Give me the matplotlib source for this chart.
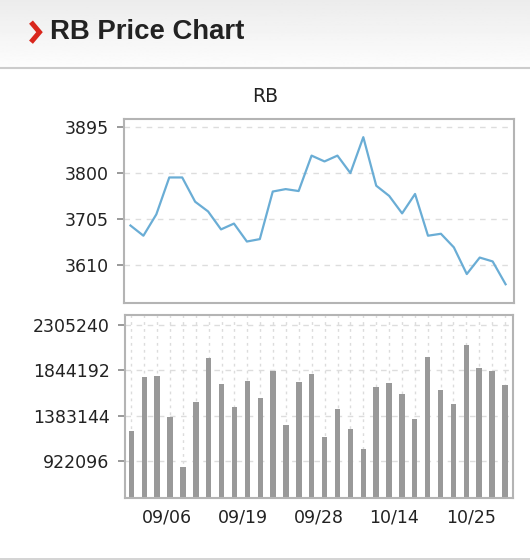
import numpy as np
import matplotlib
matplotlib.use('Agg')
import matplotlib.pyplot as plt

# price series (30 sessions) and volume bars
price = [3692, 3671, 3715, 3791, 3791, 3741, 3721, 3684, 3696, 3659,
         3664, 3762, 3767, 3763, 3836, 3824, 3836, 3800, 3874, 3774,
         3753, 3717, 3757, 3671, 3675, 3647, 3592, 3626, 3618, 3571]
volume = [1227000, 1780000, 1787000, 1373000, 861000, 1519000, 1974000, 1709000, 1468000, 1736000,
          1567000, 1838000, 1288000, 1729000, 1811000, 1166000, 1455000, 1251000, 1048000, 1679000,
          1719000, 1607000, 1346000, 1984000, 1645000, 1506000, 2103000, 1865000, 1841000, 1692000]
price_ticks = [3610, 3705, 3800, 3895]
vol_ticks = [922096, 1383144, 1844192, 2305240]
date_labels = ['09/06', '09/19', '09/28', '10/14', '10/25']
date_pos = [2.77, 8.64, 14.59, 20.4, 26.34]

W, H = 530, 560
fig = plt.figure(figsize=(W / 100, H / 100), dpi=100)
fig.patch.set_facecolor('white')

# header strip with a soft gradient
hdr = fig.add_axes([0, 1 - 67 / H, 1, 67 / H])
grad = np.linspace(0.925, 0.99, 64).reshape(-1, 1)
hdr.imshow(grad, cmap='gray', vmin=0, vmax=1, aspect='auto', extent=[0, 1, 0, 1])
hdr.set_xlim(0, 1)
hdr.set_ylim(0, 1)
hdr.axis('off')
hdr.plot([31 / W, 39.5 / W, 31 / W], [0.67, 0.52, 0.37], color='#d9261c', lw=3.6,
         solid_joinstyle='miter', solid_capstyle='butt', transform=hdr.transAxes)
hdr.text(50 / W, 0.52, 'RB Price Chart', family='Liberation Sans', weight='bold',
         fontsize=19.8, color='#222222', va='center', ha='left', transform=hdr.transAxes)
fig.add_artist(plt.Line2D([0, 1], [1 - 68 / H, 1 - 68 / H], color='#cccccc', lw=1.5))
fig.add_artist(plt.Line2D([0, 1], [1 - 558.5 / H, 1 - 558.5 / H], color='#cccccc', lw=1.2))

frame_col = '#b4b4b4'
tick_font = dict(family='DejaVu Sans', size=12.5)
x = np.arange(len(price))
xlim = (-0.5, 29.65)

ax1 = fig.add_axes([124 / W, 1 - 302.7 / H, 390 / W, 183.5 / H])
ax1.plot(x, price, color='#6aadd5', lw=1.6)
ax1.set_xlim(*xlim)
ax1.set_ylim(3533, 3911)
ax1.set_yticks(price_ticks)
ax1.set_yticklabels([str(v) for v in price_ticks], **tick_font)
ax1.set_xticks([])
ax1.yaxis.grid(True, color='#dddddd', ls=(0, (4, 4)), lw=1)
ax1.set_axisbelow(True)
fig.text(265 / W, 1 - 96 / H, 'RB', ha='center', va='center', family='DejaVu Sans',
         fontsize=13.5, color='#222222')

ax2 = fig.add_axes([125 / W, 1 - 497.7 / H, 388.3 / W, 182.7 / H])
ax2.bar(x, volume, width=0.42, color='#999999', zorder=2)
ax2.set_xlim(*xlim)
ax2.set_ylim(548000, 2408000)
ax2.set_yticks(vol_ticks)
ax2.set_yticklabels([str(v) for v in vol_ticks], **tick_font)
ax2.set_xticks(x, minor=True)
ax2.set_xticks(date_pos)
ax2.set_xticklabels(date_labels, **tick_font)
ax2.tick_params(axis='x', which='both', length=0, pad=8)
ax2.yaxis.grid(True, color='#dddddd', ls=(0, (4, 4)), lw=1)
ax2.xaxis.grid(True, which='minor', color='#dcdcdc', ls=(0, (2, 3)), lw=1)
ax2.set_axisbelow(True)

for ax in (ax1, ax2):
    for s in ax.spines.values():
        s.set_color(frame_col)
        s.set_linewidth(1.5)
    ax.tick_params(axis='y', length=5, width=1.2, color='#888888', pad=6, labelcolor='#222222')
    ax.tick_params(axis='x', labelcolor='#222222')

fig.savefig('out.png', dpi=100)
